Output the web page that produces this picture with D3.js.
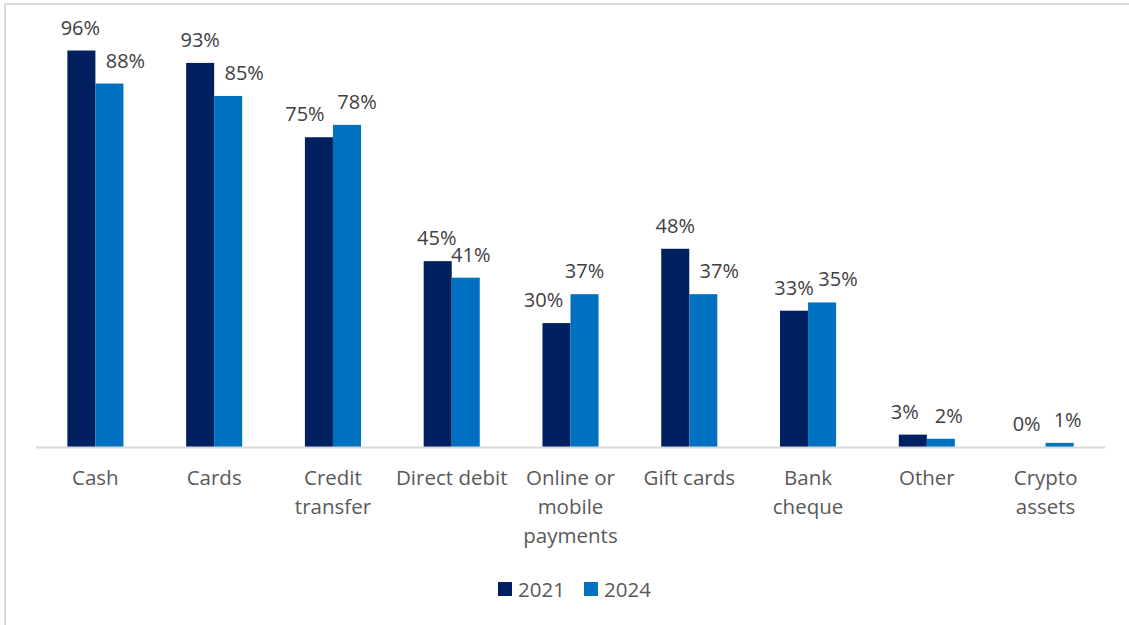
<!DOCTYPE html>
<html>
<head>
<meta charset="utf-8">
<script src="https://cdn.jsdelivr.net/npm/d3@7"></script>
<style>
  body { margin: 0; background: #fff; }
  svg { display: block; font-family: "Open Sans", "Noto Sans", sans-serif; }
</style>
</head>
<body>
<div id="chart"></div>
<script>
// data
var categories = ["Cash", "Cards", "Credit transfer", "Direct debit", "Online or mobile payments",
  "Gift cards", "Bank cheque", "Other", "Crypto assets"];
var catLines = [["Cash"], ["Cards"], ["Credit", "transfer"], ["Direct debit"], ["Online or", "mobile", "payments"],
  ["Gift cards"], ["Bank", "cheque"], ["Other"], ["Crypto", "assets"]];
var years = ["2021", "2024"];
var values2021 = [96, 93, 75, 45, 30, 48, 33, 3, 0];
var values2024 = [88, 85, 78, 41, 37, 37, 35, 2, 1];
var colors = ["#002060", "#0070C0"];

// hand nudges for the data labels, like the source chart
var nudge2021 = [-1, 0, -14, -1, -13, 0, 0, -8, -5];
var nudge2024 = [16, 16, 10, 5, 0, 16, 16, 8, 8];

var width = 1129, height = 625;
var margin = { top: 34, right: 24, bottom: 178, left: 36 };

var svg = d3.select("#chart").append("svg")
  .attr("width", width)
  .attr("height", height);

// frame (only top + left show in the source)
svg.append("line").attr("x1", 5).attr("x2", width).attr("y1", 4).attr("y2", 4)
  .attr("stroke", "#d9d9d9").attr("stroke-width", 2);
svg.append("line").attr("x1", 5).attr("x2", 5).attr("y1", 4).attr("y2", height)
  .attr("stroke", "#d9d9d9").attr("stroke-width", 2);

var x0 = d3.scaleBand()
  .domain(categories)
  .range([margin.left, width - margin.right])
  .paddingInner(0.528)
  .paddingOuter(0.264);

var x1 = d3.scaleBand()
  .domain(years)
  .range([0, x0.bandwidth()]);

var y = d3.scaleLinear()
  .domain([0, 100])
  .range([height - margin.bottom, margin.top]);

var rows = categories.map(function(c, i) {
  return { cat: c, i: i, vals: [
    { year: "2021", v: values2021[i], nudge: nudge2021[i] },
    { year: "2024", v: values2024[i], nudge: nudge2024[i] }
  ] };
});

var groups = svg.selectAll(".grp")
  .data(rows)
  .enter()
  .append("g")
  .attr("class", "grp")
  .attr("transform", function(d) { return "translate(" + x0(d.cat) + ",0)"; });

groups.selectAll("rect")
  .data(function(d) { return d.vals; })
  .enter()
  .append("rect")
  .attr("x", function(d) { return x1(d.year); })
  .attr("width", x1.bandwidth())
  .attr("y", function(d) { return y(d.v); })
  .attr("height", function(d) { return y(0) - y(d.v); })
  .attr("fill", function(d, i) { return colors[i]; });

groups.selectAll(".lbl")
  .data(function(d) { return d.vals; })
  .enter()
  .append("text")
  .attr("class", "lbl")
  .attr("x", function(d) { return x1(d.year) + x1.bandwidth() / 2 + d.nudge; })
  .attr("y", function(d) { return y(d.v) - 16; })
  .attr("text-anchor", "middle")
  .attr("font-size", 20)
  .attr("fill", "#404040")
  .text(function(d) { return d.v + "%"; });

// axis line
svg.append("line")
  .attr("x1", margin.left)
  .attr("x2", width - margin.right)
  .attr("y1", y(0) + 0.5)
  .attr("y2", y(0) + 0.5)
  .attr("stroke", "#d9d9d9")
  .attr("stroke-width", 2);

// category labels
var xAxis = svg.append("g");
categories.forEach(function(c, i) {
  var t = xAxis.append("text")
    .attr("x", x0(c) + x0.bandwidth() / 2)
    .attr("y", y(0) + 38)
    .attr("text-anchor", "middle")
    .attr("font-size", 20.5)
    .attr("fill", "#595959");
  catLines[i].forEach(function(line, k) {
    t.append("tspan")
      .attr("x", x0(c) + x0.bandwidth() / 2)
      .attr("dy", k === 0 ? 0 : 29)
      .text(line);
  });
});

// legend
var legend = svg.append("g").attr("transform", "translate(498,582)");
var legendX = [0, 86];
years.forEach(function(yr, i) {
  var g = legend.append("g").attr("transform", "translate(" + legendX[i] + ",0)");
  g.append("rect").attr("width", 14).attr("height", 14).attr("fill", colors[i]);
  g.append("text")
    .attr("x", 20)
    .attr("y", 15)
    .attr("font-size", 20.5)
    .attr("fill", "#595959")
    .text(yr);
});
</script>
</body>
</html>
